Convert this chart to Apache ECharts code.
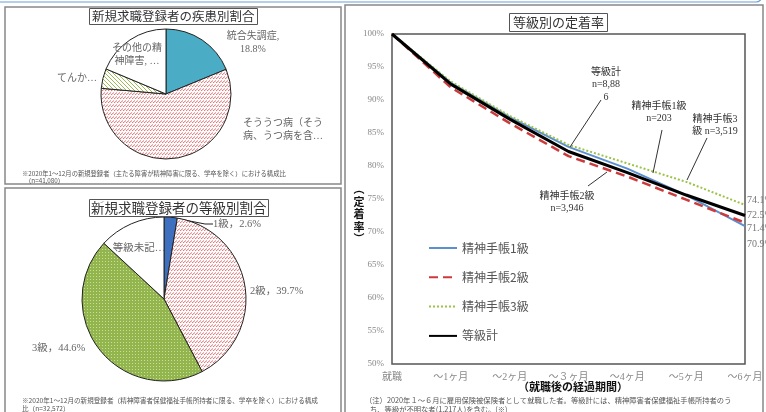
<!DOCTYPE html>
<html>
<head>
<meta charset="utf-8">
<script src="https://cdn.jsdelivr.net/npm/echarts@6/dist/echarts.min.js"></script>
<style>
html, body { margin: 0; padding: 0; background: #fff; }
#main { width: 766px; height: 412px; }
</style>
</head>
<body>
<div id="main"></div>
<script>
var dom = document.getElementById("main");
var myChart = echarts.init(dom);

// 疾患別割合
var diseaseNames = ['統合失調症', 'そううつ病（そう病、うつ病を含む）', 'てんかん', 'その他の精神障害'];
var diseaseValues = [18.8, 57.6, 4.9, 18.7];
var diseaseLabels = ['統合失調症,\n18.8%', 'そううつ病（そう\n病、うつ病を含…', 'てんか…', 'その他の精\n神障害, …'];

// 等級別割合
var gradeNames = ['1級', '2級', '3級', '等級未記載'];
var gradeValues = [2.6, 39.7, 44.6, 13.1];
var gradeLabels = ['1級，2.6%', '2級，39.7%', '3級，44.6%', '等級未記…'];

// 定着率
var months = ['就職', '～1ヶ月', '～2ヶ月', '～３ヶ月', '～4ヶ月', '～5ヶ月', '～6ヶ月'];
var lineNames = ['精神手帳1級', '精神手帳2級', '精神手帳3級', '等級計'];
var grade1 = [100, 92.6, 87.4, 82.9, 79.6, 75.6, 70.9];
var grade2 = [100, 91.9, 86.5, 81.5, 78.4, 74.9, 71.4];
var grade3 = [100, 92.8, 87.6, 83.2, 80.4, 77.6, 74.1];
var gradeTotal = [100, 92.4, 87.1, 82.2, 79.0, 75.6, 72.5];

var serif = '"Liberation Serif", "Noto Sans CJK JP", serif';
var sans = '"Noto Sans CJK JP", sans-serif';

function pattern(bg, fg, w, h, draw) {
    var c = document.createElement('canvas');
    c.width = w;
    c.height = h;
    var ctx = c.getContext('2d');
    ctx.fillStyle = bg;
    ctx.fillRect(0, 0, w, h);
    ctx.strokeStyle = fg;
    ctx.fillStyle = fg;
    ctx.lineWidth = 1;
    draw(ctx);
    return {image: c, repeat: 'repeat'};
}

var redHatch = pattern('#ffffff', '#e07070', 3, 4, function (ctx) {
    ctx.beginPath();
    ctx.moveTo(0, 3);
    ctx.lineTo(3, 0.5);
    ctx.stroke();
});
var greenHatch = pattern('#ffffff', '#9bbb59', 4, 4, function (ctx) {
    ctx.beginPath();
    ctx.moveTo(0, 0);
    ctx.lineTo(4, 4);
    ctx.stroke();
});
var greenDots = pattern('#92b54e', '#c9dd9c', 3, 3, function (ctx) {
    ctx.fillRect(0, 0, 1, 1);
});

var diseaseColors = ['#4bacc6', redHatch, greenHatch, '#ffffff'];
var gradeColors = ['#3f6fbf', redHatch, greenDots, '#ffffff'];

// label anchor positions (x, y, align)
var diseaseLabelPos = [[253, 43, 'center'], [243, 130, 'left'], [97, 78, 'right'], [137, 55, 'center']];
var gradeLabelPos = [[213, 224, 'left'], [250, 291, 'left'], [32, 348, 'left'], [139, 248, 'center']];

function pieData(names, values, labels, colors) {
    return names.map(function (n, i) {
        return {
            name: n,
            value: values[i],
            itemStyle: {color: colors[i]},
            label: {formatter: labels[i]}
        };
    });
}

var lineColors = ['#5b8fd0', '#cc3b3b', '#9bc34a', '#000000'];
var lineStyles = [
    {width: 2, type: 'solid'},
    {width: 2.5, type: [9, 5]},
    {width: 2, type: [2, 2]},
    {width: 3, type: 'solid'}
];
var endOffsets = [18, 6, -5, 0];
var lineData = [grade1, grade2, grade3, gradeTotal];

var lineSeries = lineData.map(function (vals, k) {
    return {
        name: lineNames[k],
        type: 'line',
        symbol: 'none',
        clip: false,
        color: lineColors[k],
        lineStyle: {color: lineColors[k], width: lineStyles[k].width, type: lineStyles[k].type},
        z: 3 + k,
        endLabel: {
            show: true,
            distance: 2,
            offset: [0, endOffsets[k]],
            formatter: function (p) { return p.value.toFixed(1) + '%'; },
            color: '#777',
            fontSize: 10,
            fontFamily: serif
        },
        data: vals
    };
});

function note(x, y, text, size) {
    return {type: 'text', left: x, top: y, style: {text: text, fill: '#555', font: size + 'px ' + sans}};
}
function lead(x1, y1, x2, y2) {
    return {type: 'line', shape: {x1: x1, y1: y1, x2: x2, y2: y2}, style: {stroke: '#333', lineWidth: 1}, z: 10};
}
function anno(x, y, text) {
    return {type: 'text', x: x, y: y, z: 10, style: {text: text, fill: '#333', align: 'center', verticalAlign: 'top', lineHeight: 12.5, font: '10px ' + serif}};
}

var titleBox = {borderColor: '#555', borderWidth: 1, backgroundColor: '#fff'};

option = {
    animation: false,
    title: [
        Object.assign({text: '新規求職登録者の疾患別割合', left: 89, top: 8, padding: [2, 3],
            textStyle: {fontSize: 12.5, fontWeight: 'normal', color: '#333', fontFamily: sans}}, titleBox),
        Object.assign({text: '新規求職登録者の等級別割合', left: 89, top: 199, padding: [2, 2],
            textStyle: {fontSize: 13.5, fontWeight: 'normal', color: '#333', fontFamily: sans}}, titleBox),
        Object.assign({text: '等級別の定着率', left: 509, top: 13, padding: [3, 4],
            textStyle: {fontSize: 13, fontWeight: 'normal', color: '#333', fontFamily: sans}}, titleBox)
    ],
    legend: {
        orient: 'vertical',
        left: 423,
        top: 237,
        itemWidth: 28,
        itemHeight: 14,
        itemGap: 17.3,
        selectedMode: false,
        itemStyle: {opacity: 0},
        data: lineNames,
        textStyle: {fontSize: 12, color: '#555', fontFamily: sans}
    },
    grid: {
        left: 392,
        right: 21,
        top: 34,
        bottom: 48,
        show: true,
        borderColor: '#555',
        borderWidth: 1.5,
        backgroundColor: '#fff'
    },
    xAxis: {
        type: 'category',
        data: months,
        boundaryGap: false,
        axisLine: {show: false},
        axisTick: {show: false},
        axisLabel: {margin: 8, fontSize: 10, color: '#888', fontFamily: serif, interval: 0},
        name: '（就職後の経過期間）',
        nameLocation: 'middle',
        nameGap: 17,
        nameMoveOverlap: false,
        nameTextStyle: {fontSize: 11, fontWeight: 'bold', color: '#111', fontFamily: sans, padding: [0, 0, 0, 9]}
    },
    yAxis: {
        type: 'value',
        min: 50,
        max: 100,
        interval: 5,
        axisLine: {show: false},
        axisTick: {show: false},
        splitLine: {show: false},
        axisLabel: {margin: 8, fontSize: 9, color: '#888', fontFamily: serif, formatter: '{value}%'}
    },
    series: [{
        type: 'pie',
        center: [166, 94],
        radius: 65,
        startAngle: 90,
        clockwise: true,
        silent: true,
        itemStyle: {borderColor: '#222', borderWidth: 1},
        label: {position: 'outside', overflow: 'none', fontSize: 10, color: '#666', fontFamily: serif, lineHeight: 13},
        labelLine: {show: false},
        labelLayout: function (p) {
            var q = diseaseLabelPos[p.dataIndex];
            return {x: q[0], y: q[1], align: q[2], verticalAlign: 'middle'};
        },
        data: pieData(diseaseNames, diseaseValues, diseaseLabels, diseaseColors)
    }, {
        type: 'pie',
        center: [164, 299],
        radius: 82,
        startAngle: 90,
        clockwise: true,
        silent: true,
        itemStyle: {borderColor: '#222', borderWidth: 1},
        label: {position: 'outside', overflow: 'none', fontSize: 10.5, color: '#666', fontFamily: serif},
        labelLine: {show: false},
        labelLayout: function (p) {
            var q = gradeLabelPos[p.dataIndex];
            return {x: q[0], y: q[1], align: q[2], verticalAlign: 'middle'};
        },
        data: pieData(gradeNames, gradeValues, gradeLabels, gradeColors).map(function (d, i) {
            if (i === 0) d.labelLine = {show: true, length: 6, length2: 8, lineStyle: {color: '#222', width: 1}};
            return d;
        })
    }].concat(lineSeries),
    graphic: [
        {type: 'rect', shape: {x: -10, y: -30, width: 772, height: 32, r: 6}, style: {fill: 'none', stroke: '#6a9fd9', lineWidth: 1.2}},
        {type: 'rect', shape: {x: 5, y: 7, width: 336, height: 177}, style: {fill: 'none', stroke: '#888', lineWidth: 1.5}},
        {type: 'rect', shape: {x: 5, y: 188, width: 336, height: 240}, style: {fill: 'none', stroke: '#888', lineWidth: 1.5}},
        {type: 'rect', shape: {x: 345, y: 5, width: 418, height: 420}, style: {fill: 'none', stroke: '#888', lineWidth: 1.5}},
        {type: 'text', x: 359, y: 183, style: {text: '︵\n定\n着\n率\n︶', fill: '#111', align: 'center', verticalAlign: 'top',
            lineHeight: 12.5, font: 'bold 11px ' + sans}},
        note(22, 170, '※2020年1～12月の新規登録者（主たる障害が精神障害に限る、学卒を除く）における構成比', 6.3),
        note(25, 177.5, '（n=41,080）', 6.3),
        note(22, 397, '※2020年1～12月の新規登録者（精神障害者保健福祉手帳所持者に限る、学卒を除く）における構成', 6.6),
        note(22, 405, '比（n=32,572）', 6.6),
        note(365, 397, '（注）2020年１～６月に雇用保険被保険者として就職した者。等級計には、精神障害者保健福祉手帳所持者のう', 7.3),
        note(370, 406, 'ち、等級が不明な者(1,217人)を含む。(※)', 7.3),
        anno(606, 66, '等級計\nn=8,88\n6'),
        lead(601, 100, 570, 147),
        anno(659, 100, '精神手帳1級\nn=203'),
        lead(662, 130, 653, 173),
        anno(715, 113, '精神手帳3\n級 n=3,519'),
        lead(707, 138, 687, 180),
        anno(567, 190, '精神手帳2級\nn=3,946'),
        lead(588, 186, 607, 172)
    ]
};

if (option && typeof option === "object") {
    myChart.setOption(option, true);
}
</script>
</body>
</html>
